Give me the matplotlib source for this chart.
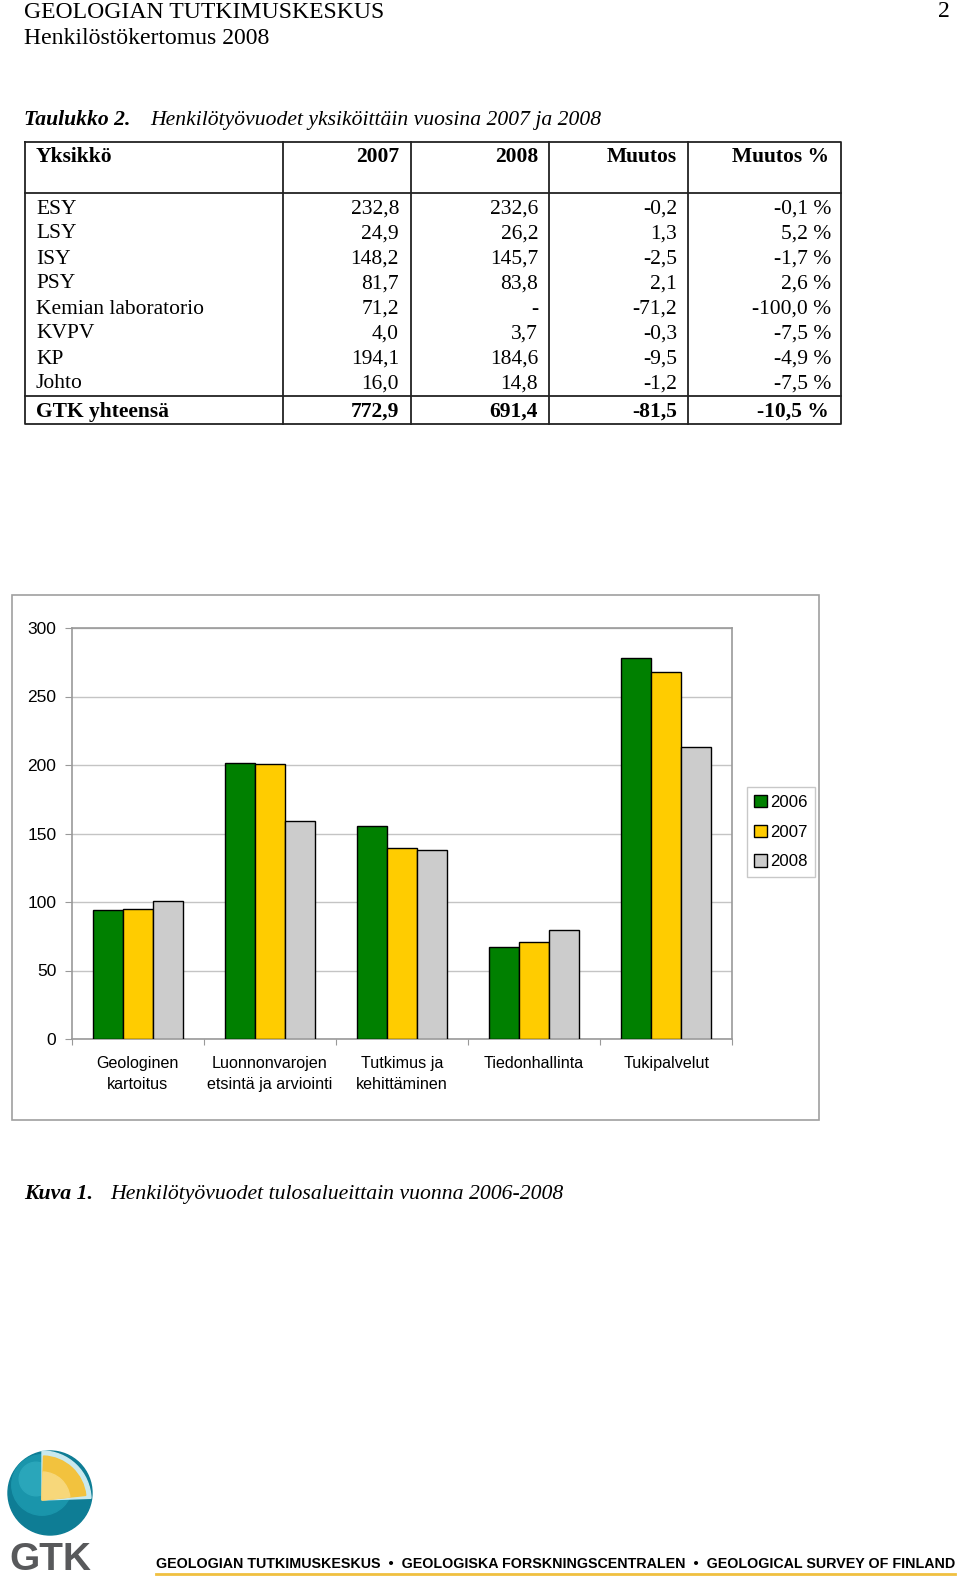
import matplotlib
matplotlib.use("Agg")
import matplotlib.pyplot as plt
from matplotlib.patches import Rectangle, Circle, Wedge
import numpy as np

# ---------------- data ----------------
categories = ["Geologinen\nkartoitus", "Luonnonvarojen\netsintä ja arviointi",
              "Tutkimus ja\nkehittäminen", "Tiedonhallinta", "Tukipalvelut"]
series_names = ["2006", "2007", "2008"]
v2006 = [94.2, 201.7, 155.7, 67.2, 277.9]
v2007 = [95.1, 200.7, 139.2, 70.6, 267.9]
v2008 = [100.7, 159.3, 138.0, 79.6, 212.9]
series_colors = ["#008000", "#ffcc00", "#cccccc"]
yticks = [0, 50, 100, 150, 200, 250, 300]

table_header = ["Yksikkö", "2007", "2008", "Muutos", "Muutos %"]
units = ["ESY", "LSY", "ISY", "PSY", "Kemian laboratorio", "KVPV", "KP", "Johto"]
col2007 = ["232,8", "24,9", "148,2", "81,7", "71,2", "4,0", "194,1", "16,0"]
col2008 = ["232,6", "26,2", "145,7", "83,8", "-", "3,7", "184,6", "14,8"]
colmuutos = ["-0,2", "1,3", "-2,5", "2,1", "-71,2", "-0,3", "-9,5", "-1,2"]
colpct = ["-0,1 %", "5,2 %", "-1,7 %", "2,6 %", "-100,0 %", "-7,5 %", "-4,9 %", "-7,5 %"]
total_row = ["GTK yhteensä", "772,9", "691,4", "-81,5", "-10,5 %"]

W, H = 960, 1579
fig = plt.figure(figsize=(W / 100, H / 100), dpi=100)
pg = fig.add_axes([0, 0, 1, 1])
pg.set_xlim(0, W)
pg.set_ylim(H, 0)
pg.axis("off")

serif = ["Liberation Serif", "DejaVu Serif"]
sans = ["Liberation Sans", "DejaVu Sans"]

# ---------------- page header ----------------
pg.text(24, 17.7, "GEOLOGIAN TUTKIMUSKESKUS", family=serif, fontsize=17.1, va="baseline", ha="left")
pg.text(24, 44.3, "Henkilöstökertomus 2008", family=serif, fontsize=17.1, va="baseline", ha="left")
pg.text(950, 16.7, "2", family=serif, fontsize=17.1, va="baseline", ha="right")

# table caption
pg.text(24, 125, "Taulukko 2.", family=serif, fontsize=15.6, fontweight="bold", fontstyle="italic", va="baseline")
pg.text(150, 125, "Henkilötyövuodet yksiköittäin vuosina 2007 ja 2008", family=serif, fontsize=15.6,
        fontstyle="italic", va="baseline")

# ---------------- table ----------------
tl, tr = 24.5, 841
ttop, thead, ttot, tbot = 142, 192.5, 396.3, 424.3
vcols = [282.7, 411, 549.3, 688.3]
lc = "#222222"
lw = 1.3
pg.plot([tl, tr, tr, tl, tl], [ttop, ttop, tbot, tbot, ttop], color=lc, lw=lw)
for y in (thead, ttot):
    pg.plot([tl, tr], [y, y], color=lc, lw=lw)
for x in vcols:
    pg.plot([x, x], [ttop, tbot], color=lc, lw=lw)

right_x = [399, 538, 677, 831]
fs_t = 15.5
pg.text(36, 162.5, table_header[0], family=serif, fontsize=fs_t, fontweight="bold", va="baseline")
for i, h in enumerate(table_header[1:]):
    xr = right_x[i] - (2 if i == 3 else 0)
    pg.text(xr, 162.5, h, family=serif, fontsize=fs_t, fontweight="bold", va="baseline", ha="right")

for r in range(len(units)):
    yb = 213.5 + 25 * r
    pg.text(36, yb, units[r], family=serif, fontsize=fs_t, va="baseline")
    for i, col in enumerate([col2007, col2008, colmuutos, colpct]):
        pg.text(right_x[i], yb, col[r], family=serif, fontsize=fs_t, va="baseline", ha="right")

pg.text(36, 417, total_row[0], family=serif, fontsize=fs_t, fontweight="bold", va="baseline")
for i, v in enumerate(total_row[1:]):
    xr = right_x[i] - (2 if i == 3 else 0)
    pg.text(xr, 417, v, family=serif, fontsize=fs_t, fontweight="bold", va="baseline", ha="right")

# ---------------- chart ----------------
pg.add_patch(Rectangle((11.7, 595.3), 819.3 - 11.7, 1120 - 595.3, fill=False, edgecolor="#a0a0a0", lw=1.2))

x0, x1, y0, y1 = 71.7, 732.3, 628, 1039
ax = fig.add_axes([x0 / W, 1 - y1 / H, (x1 - x0) / W, (y1 - y0) / H])
n = len(categories)
x = np.arange(n)
bw = 0.226
for k, (vals, col, name) in enumerate(zip([v2006, v2007, v2008], series_colors, series_names)):
    ax.bar(x + (k - 1) * bw, vals, width=bw, color=col, edgecolor="black", linewidth=1.0,
           label=name, zorder=3)
ax.set_xlim(-0.5, n - 0.5)
ax.set_ylim(0, 300)
ax.set_yticks(yticks)
ax.set_yticklabels([str(t) for t in yticks], family=sans, fontsize=12.5)
ax.yaxis.grid(True, color="#c4c4c4", lw=1.0, zorder=0)
ax.set_axisbelow(True)
for s in ax.spines.values():
    s.set_color("#999999")
    s.set_linewidth(1.2)
ax.tick_params(axis="y", length=5, color="#999999", pad=6)
ax.set_xticks(np.arange(-0.5, n, 1.0))
ax.set_xticklabels([])
ax.tick_params(axis="x", length=4, color="#999999")
ax.set_xticks(x, minor=True)
ax.set_xticklabels(categories, minor=True, family=sans, fontsize=11.6, linespacing=1.55)
ax.tick_params(axis="x", which="minor", length=0, pad=12)

leg = ax.legend(loc="upper left", bbox_to_anchor=(746.5 / W, 1 - 787.3 / H), bbox_transform=fig.transFigure,
                prop={"family": sans, "size": 12.1}, frameon=True, fancybox=False,
                handlelength=0.75, handleheight=0.75, handletextpad=0.2, labelspacing=0.88,
                borderpad=0.45, borderaxespad=0)
leg.get_frame().set_edgecolor("#bbbbbb")
leg.get_frame().set_linewidth(1.0)

# figure caption
pg.text(24, 1199, "Kuva 1.", family=serif, fontsize=15.7, fontweight="bold", fontstyle="italic", va="baseline")
pg.text(110, 1199, "Henkilötyövuodet tulosalueittain vuonna 2006-2008", family=serif, fontsize=15.7,
        fontstyle="italic", va="baseline")

# ---------------- footer / logo ----------------
cx, cy, rr = 50, 1493, 42
pg.add_patch(Circle((cx, cy), rr, color="#0e7d95", zorder=2))
pg.add_patch(Circle((cx - 8, cy - 8), rr * 0.72, color="#1a95ab", zorder=2))
pg.add_patch(Circle((cx - 14, cy - 14), rr * 0.4, color="#2aa6ba", zorder=2))
pg.add_patch(Wedge((42, 1500), 49, 270, 358, color="#c9e9ee", zorder=3))
pg.add_patch(Wedge((42, 1500), 44, 272, 354, color="#f2c23e", zorder=4))
pg.add_patch(Wedge((42, 1500), 28, 272, 354, color="#f7d77a", zorder=4))
pg.text(50, 1578.5, "GTK", family=sans, fontsize=28, fontweight="bold", color="#58595b",
        ha="center", va="bottom")
pg.text(156, 1568, "GEOLOGIAN TUTKIMUSKESKUS  \u2022  GEOLOGISKA FORSKNINGSCENTRALEN  \u2022  GEOLOGICAL SURVEY OF FINLAND",
        family=sans, fontsize=10.3, fontweight="bold", va="baseline", ha="left")
pg.plot([156, 955], [1573.5, 1573.5], color="#f0c040", lw=2)

fig.savefig("out.png", dpi=100)
